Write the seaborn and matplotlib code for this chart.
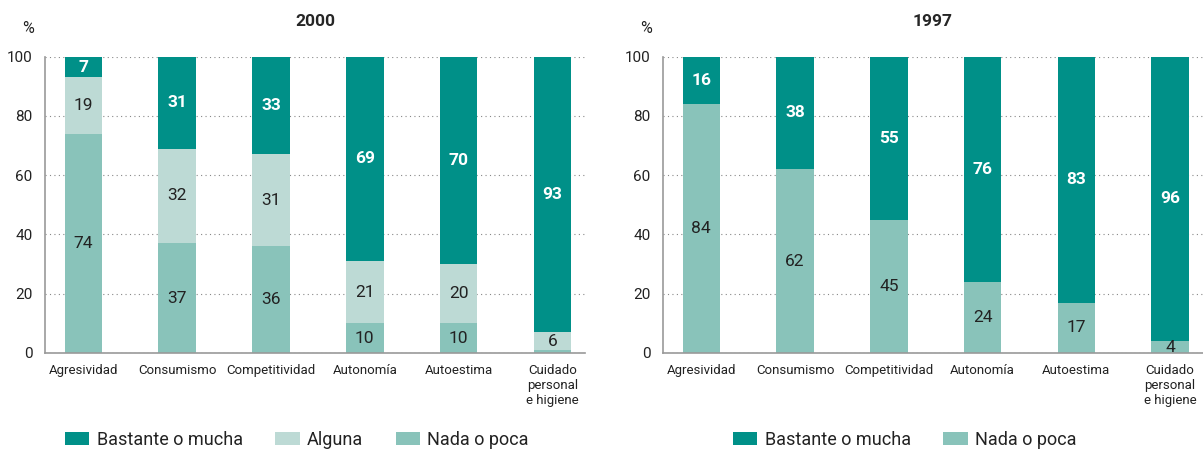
import pandas as pd
import numpy as np
import matplotlib.pyplot as plt
import seaborn as sns
from matplotlib.patches import Patch

categorias = ['Agresividad', 'Consumismo', 'Competitividad', 'Autonomía',
              'Autoestima', 'Cuidado\npersonal\ne higiene']

# 2000
nada_2000 = [74, 37, 36, 10, 10, 1]
alguna_2000 = [19, 32, 31, 21, 20, 6]
bastante_2000 = [7, 31, 33, 69, 70, 93]

# 1997
nada_1997 = [84, 62, 45, 24, 17, 4]
bastante_1997 = [16, 38, 55, 76, 83, 96]

c_bastante = '#009088'
c_alguna = '#bddad5'
c_nada = '#89c3ba'

sns.set_style('white')
plt.rcParams['font.family'] = ['Roboto', 'DejaVu Sans']

fig = plt.figure(figsize=(12.03, 4.57), dpi=100)
ax1 = fig.add_axes([0.0374, 0.2276, 0.449, 0.6484])
ax2 = fig.add_axes([0.551, 0.2276, 0.449, 0.6484])


def draw(ax, series, colors, names, title):
    # series from bottom to top; draw cumulative totals from top down
    df = pd.DataFrame({'cat': categorias})
    cum = np.cumsum(np.array(series), axis=0)
    for i in range(len(series) - 1, -1, -1):
        df['v'] = cum[i]
        sns.barplot(data=df, x='cat', y='v', color=colors[i], width=0.4,
                    saturation=1, linewidth=0, ax=ax, zorder=2)
    # value labels
    for i, s in enumerate(series):
        base = cum[i] - np.array(s)
        white = colors[i] == c_bastante
        for j, v in enumerate(s):
            if v < 3:
                continue
            ax.text(j, base[j] + v / 2, str(v), ha='center', va='center',
                    fontsize=12.5, color='white' if white else '#222222',
                    fontweight='bold' if white else 'normal', zorder=3)
    ax.set_ylim(0, 100)
    ax.set_xlim(-0.41, 5.35)
    ax.set_yticks(range(0, 101, 20))
    ax.yaxis.grid(True, linestyle=(0, (1, 3)), color='#888888', linewidth=0.8, zorder=0)
    ax.set_axisbelow(True)
    ax.tick_params(axis='y', length=0, pad=9, labelsize=11, colors='#222222')
    ax.tick_params(axis='x', length=0, pad=8, labelsize=9.5, colors='#222222')
    ax.set_xlabel('')
    ax.set_ylabel('')
    for sp in ['top', 'right']:
        ax.spines[sp].set_visible(False)
    for sp in ['left', 'bottom']:
        ax.spines[sp].set_color('#999999')
        ax.spines[sp].set_linewidth(1.2)
    ax.set_title(title, fontweight='bold', fontsize=12.5, pad=22)
    ax.text(-0.031, 1.095, '%', transform=ax.transAxes, fontsize=11.5,
            ha='center', va='center', color='#222222')
    # legend top-down order
    handles = [Patch(color=colors[i], linewidth=0) for i in range(len(series) - 1, -1, -1)]
    labels = [names[i] for i in range(len(series) - 1, -1, -1)]
    return handles, labels


h1, l1 = draw(ax1, [nada_2000, alguna_2000, bastante_2000],
              [c_nada, c_alguna, c_bastante],
              ['Nada o poca', 'Alguna', 'Bastante o mucha'], '2000')
ax1.legend(h1, l1, loc='center left', bbox_to_anchor=(0.037, -0.293), ncol=3,
           frameon=False, fontsize=13, handlelength=1.35, handleheight=0.8,
           handletextpad=0.4, columnspacing=1.8, borderpad=0, borderaxespad=0,
           labelcolor='#222222')

h2, l2 = draw(ax2, [nada_1997, bastante_1997], [c_nada, c_bastante],
              ['Nada o poca', 'Bastante o mucha'], '1997')
ax2.legend(h2, l2, loc='center left', bbox_to_anchor=(0.13, -0.293), ncol=2,
           frameon=False, fontsize=13, handlelength=1.35, handleheight=0.8,
           handletextpad=0.4, columnspacing=1.8, borderpad=0, borderaxespad=0,
           labelcolor='#222222')

fig.savefig('out.png', dpi=100)
